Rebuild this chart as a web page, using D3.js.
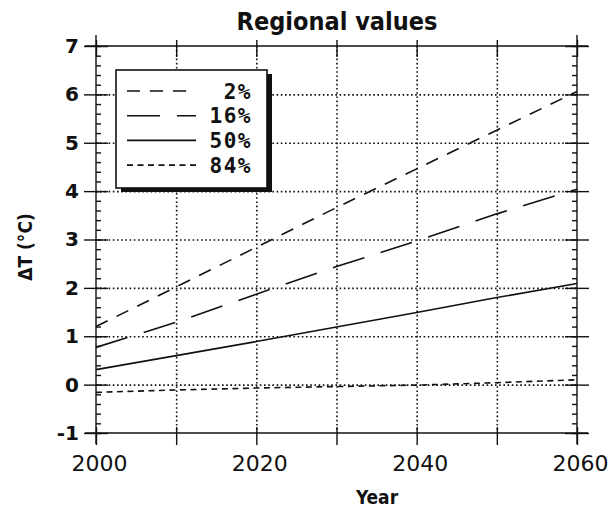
<!DOCTYPE html>
<html>
<head>
<meta charset="utf-8">
<script src="https://cdn.jsdelivr.net/npm/d3@7"></script>
<style>
  body { margin: 0; background: #fff; }
  svg { display: block; }
  .frame line, .frame path { stroke: #111; stroke-width: 1.4px; fill: none; }
  .tick line { stroke: #111; stroke-width: 1.4px; }
  .grid .tick line { stroke: #111; stroke-width: 1.6px; stroke-dasharray: 1.6,2.6; }
  .grid path { display: none; }
  .ylab text { font-family: "DejaVu Sans", sans-serif; font-weight: bold; font-size: 20px; fill: #111; }
  .xlab text { font-family: "DejaVu Sans", sans-serif; font-size: 22px; fill: #111; }
  .series { fill: none; stroke: #111; stroke-width: 1.6px; }
  .legend text { font-family: "DejaVu Sans Mono", monospace; font-weight: bold; font-size: 21px; letter-spacing: 1.5px; fill: #111; }
  .title { font-family: "DejaVu Sans Condensed", "DejaVu Sans", sans-serif; font-weight: bold; font-size: 25px; fill: #111; }
  .axis-title { font-family: "DejaVu Sans Condensed", "DejaVu Sans", sans-serif; font-weight: bold; font-size: 19px; fill: #111; }
</style>
</head>
<body>
<script>
// values (degrees C above present)
var years = [2000, 2010, 2020, 2030, 2040, 2050, 2060];
var p2  = [1.20, 2.02, 2.84, 3.66, 4.46, 5.26, 6.06];
var p16 = [0.77, 1.29, 1.87, 2.44, 2.97, 3.53, 4.04];
var p50 = [0.31, 0.60, 0.89, 1.19, 1.49, 1.80, 2.09];
var p84 = [-0.16, -0.11, -0.07, -0.04, -0.01, 0.04, 0.10];

var seriesNames = ["2%", "16%", "50%", "84%"];
var yTicks = [-1, 0, 1, 2, 3, 4, 5, 6, 7];
var yMinor = d3.range(-1, 7.001, 0.2).map(function(d) { return +d.toFixed(1); });
var xTicks = [2000, 2010, 2020, 2030, 2040, 2050, 2060];
var xLabels = [2000, 2020, 2040, 2060];

var width = 608, height = 512;
var x = d3.scaleLinear().domain([2000, 2060]).range([96, 577]);
var y = d3.scaleLinear().domain([-1, 7]).range([433, 46]);

var svg = d3.select("body").append("svg")
    .attr("width", width)
    .attr("height", height);

// dotted grid
svg.append("g").attr("class", "grid")
    .attr("transform", "translate(" + x(2000) + ",0)")
    .call(d3.axisRight(y).tickValues(yTicks.slice(1, -1)).tickSize(x(2060) - x(2000)).tickFormat(""));
svg.append("g").attr("class", "grid")
    .attr("transform", "translate(0," + y(7) + ")")
    .call(d3.axisBottom(x).tickValues(xTicks.slice(1, -1)).tickSize(y(-1) - y(7)).tickFormat(""));

// frame, lines run a little past the corners
var frame = svg.append("g").attr("class", "frame");
var ext = 11;
frame.append("line").attr("x1", x(2000) - ext).attr("x2", x(2060) + ext).attr("y1", y(7)).attr("y2", y(7));
frame.append("line").attr("x1", x(2000) - ext).attr("x2", x(2060) + ext).attr("y1", y(-1)).attr("y2", y(-1));
frame.append("line").attr("x1", x(2000)).attr("x2", x(2000)).attr("y1", y(7) - ext).attr("y2", y(-1) + ext);
frame.append("line").attr("x1", x(2060)).attr("x2", x(2060)).attr("y1", y(7) - ext).attr("y2", y(-1) + ext);

function noDomain(g) { g.select(".domain").remove(); }

// left axis: labels + outer half of major ticks, inner half, minor ticks
svg.append("g").attr("class", "ylab")
    .attr("transform", "translate(" + x(2000) + ",0)")
    .call(d3.axisLeft(y).tickValues(yTicks).tickSize(12).tickPadding(5)
      .tickFormat(function(d) { return String(d); }))
    .call(noDomain);
svg.append("g")
    .attr("transform", "translate(" + x(2000) + ",0)")
    .call(d3.axisRight(y).tickValues(yTicks).tickSize(12).tickFormat(""))
    .call(noDomain);
svg.append("g")
    .attr("transform", "translate(" + x(2000) + ",0)")
    .call(d3.axisRight(y).tickValues(yMinor).tickSize(5).tickFormat(""))
    .call(noDomain);

// right axis
svg.append("g")
    .attr("transform", "translate(" + x(2060) + ",0)")
    .call(d3.axisRight(y).tickValues(yTicks).tickSize(12).tickFormat(""))
    .call(noDomain);
svg.append("g")
    .attr("transform", "translate(" + x(2060) + ",0)")
    .call(d3.axisLeft(y).tickValues(yTicks).tickSize(12).tickFormat(""))
    .call(noDomain);
svg.append("g")
    .attr("transform", "translate(" + x(2060) + ",0)")
    .call(d3.axisLeft(y).tickValues(yMinor).tickSize(5).tickFormat(""))
    .call(noDomain);

// bottom and top ticks
svg.append("g")
    .attr("transform", "translate(0," + y(-1) + ")")
    .call(d3.axisBottom(x).tickValues(xTicks).tickSize(12).tickFormat(""))
    .call(noDomain);
svg.append("g")
    .attr("transform", "translate(0," + y(-1) + ")")
    .call(d3.axisTop(x).tickValues(xTicks).tickSize(6).tickFormat(""))
    .call(noDomain);
svg.append("g")
    .attr("transform", "translate(0," + y(7) + ")")
    .call(d3.axisTop(x).tickValues(xTicks).tickSize(6).tickFormat(""))
    .call(noDomain);
svg.append("g")
    .attr("transform", "translate(0," + y(7) + ")")
    .call(d3.axisBottom(x).tickValues(xTicks).tickSize(11).tickFormat(""))
    .call(noDomain);

// x labels (handwritten in the original)
svg.append("g").attr("class", "xlab")
    .attr("transform", "translate(3," + y(-1) + ")")
    .call(d3.axisBottom(x).tickValues(xLabels).tickSize(0).tickPadding(22)
      .tickFormat(function(d) { return String(d); }))
    .call(noDomain);

// series
var series = [
  { name: seriesNames[0], values: p2,  dash: "13,10" },
  { name: seriesNames[1], values: p16, dash: "33,17" },
  { name: seriesNames[2], values: p50, dash: null },
  { name: seriesNames[3], values: p84, dash: "6,4.5" }
];

var line = d3.line()
    .x(function(d, i) { return x(years[i]); })
    .y(function(d) { return y(d); });

svg.append("g").selectAll("path")
    .data(series)
  .enter().append("path")
    .attr("class", "series")
    .attr("stroke-dasharray", function(d) { return d.dash; })
    .attr("d", function(d) { return line(d.values); });

// legend with drop shadow
var lg = svg.append("g").attr("class", "legend");
var box = { x: 116, y: 70, w: 151, h: 118 };
lg.append("rect")
    .attr("x", box.x + 5).attr("y", box.y + 4)
    .attr("width", box.w).attr("height", box.h)
    .attr("fill", "#111");
lg.append("rect")
    .attr("x", box.x).attr("y", box.y)
    .attr("width", box.w).attr("height", box.h)
    .attr("fill", "#fff").attr("stroke", "#111").attr("stroke-width", 1.6);

var row = lg.selectAll(".row")
    .data(series)
  .enter().append("g")
    .attr("class", "row")
    .attr("transform", function(d, i) { return "translate(0," + (91 + i * 24.7) + ")"; });

row.append("line")
    .attr("class", "series")
    .attr("x1", 127)
    .attr("x2", function(d, i) { return i === 0 ? 187 : 196; })
    .attr("stroke-dasharray", function(d) { return d.dash; });

row.append("text")
    .attr("x", 252)
    .attr("dy", "0.36em")
    .attr("text-anchor", "end")
    .text(function(d) { return d.name; });

// titles
svg.append("text").attr("class", "title")
    .attr("x", 337).attr("y", 30)
    .attr("text-anchor", "middle")
    .text("Regional values");

svg.append("text").attr("class", "axis-title")
    .attr("x", 377).attr("y", 504)
    .attr("text-anchor", "middle")
    .text("Year");

svg.append("text").attr("class", "axis-title")
    .attr("transform", "translate(25,247) rotate(-90)")
    .attr("dy", "0.36em")
    .attr("text-anchor", "middle")
    .text("ΔT (°C)");
</script>
</body>
</html>
